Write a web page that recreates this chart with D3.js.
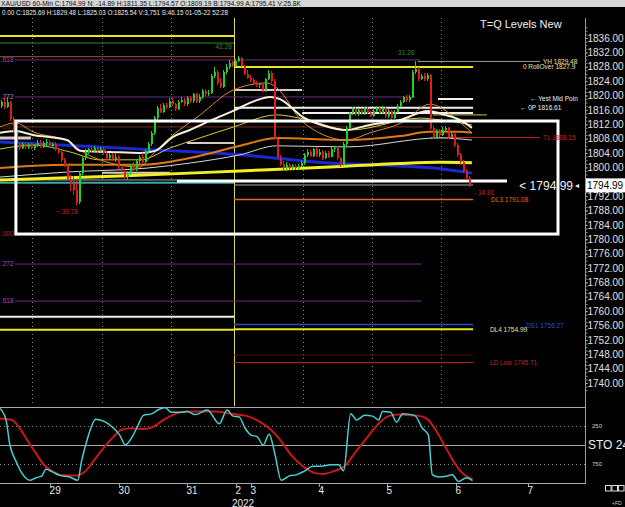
<!DOCTYPE html>
<html>
<head>
<meta charset="utf-8">
<script src="https://cdn.jsdelivr.net/npm/d3@7"></script>
<style>
  body { margin: 0; background: #000; }
  svg { display: block; }
  text { font-family: "Liberation Sans", Arial, sans-serif; }
</style>
</head>
<body>
<div id="chart"></div>
<script>
// hourly candles XAU/USD: [open, high, low, close]
var candles = [
  [1817.0,1818.8,1816.5,1818.2],[1818.2,1819.0,1816.3,1816.8],[1816.8,1819.6,1816.5,1818.3],[1818.0,1818.6,1813.0,1813.5],
  [1813.5,1814.0,1809.5,1810.0],[1810.0,1810.5,1805.8,1806.5],[1806.5,1807.0,1804.8,1805.5],[1805.5,1807.2,1805.0,1806.5],
  [1806.5,1807.0,1805.2,1805.8],[1805.8,1806.8,1805.2,1806.3],[1806.3,1807.0,1805.0,1805.5],[1805.5,1806.5,1804.8,1806.0],
  [1806.0,1807.5,1805.6,1806.8],[1806.8,1807.5,1805.5,1806.0],[1806.0,1807.3,1805.5,1806.7],[1806.7,1807.8,1806.0,1807.2],
  [1807.2,1807.6,1805.4,1806.0],[1806.0,1807.0,1805.5,1806.5],[1806.5,1807.0,1804.5,1805.0],[1805.0,1805.5,1803.8,1804.2],
  [1804.2,1804.6,1801.5,1802.0],[1802.0,1802.5,1800.0,1800.5],[1800.5,1801.0,1796.3,1796.8],[1796.8,1798.0,1793.5,1795.5],
  [1795.5,1797.6,1792.4,1793.8],[1793.8,1796.5,1789.5,1790.5],[1790.5,1799.0,1789.8,1798.5],[1798.5,1803.0,1798.0,1802.5],
  [1802.5,1805.0,1802.0,1804.3],[1804.3,1805.5,1803.8,1805.0],[1805.0,1805.6,1804.0,1804.5],[1804.5,1806.0,1804.2,1805.3],
  [1805.3,1805.8,1804.0,1804.6],[1804.6,1805.8,1804.2,1805.2],[1805.2,1805.6,1803.5,1804.0],[1804.0,1804.5,1802.0,1802.5],
  [1802.5,1804.0,1802.0,1803.5],[1803.5,1804.0,1801.8,1802.2],[1802.2,1803.6,1801.5,1803.0],[1803.0,1803.5,1799.6,1800.0],
  [1800.0,1800.6,1798.6,1799.0],[1799.0,1799.5,1796.8,1797.2],[1797.2,1799.0,1796.4,1798.5],[1798.5,1801.0,1797.8,1800.5],
  [1800.5,1801.5,1799.0,1799.5],[1799.5,1802.3,1799.0,1801.8],[1801.8,1803.5,1801.0,1803.0],[1803.0,1804.0,1801.0,1801.5],
  [1801.5,1805.0,1801.2,1804.5],[1804.5,1807.0,1804.0,1806.5],[1806.5,1810.0,1806.0,1809.5],[1809.5,1814.3,1809.0,1813.8],
  [1813.8,1817.0,1813.0,1816.5],[1816.5,1817.5,1815.0,1815.5],[1815.5,1818.0,1815.0,1817.3],[1817.3,1818.0,1816.2,1816.8],
  [1816.8,1819.2,1816.4,1818.6],[1818.6,1819.2,1817.0,1817.5],[1817.5,1818.0,1815.8,1816.3],[1816.3,1818.8,1816.0,1818.2],
  [1818.2,1819.5,1817.8,1818.8],[1818.8,1819.2,1817.2,1817.6],[1817.6,1820.0,1817.2,1819.4],[1819.4,1820.0,1818.0,1818.5],
  [1818.5,1820.8,1818.0,1820.3],[1820.3,1820.6,1817.8,1818.4],[1818.4,1820.3,1818.0,1819.6],[1819.6,1821.8,1819.0,1821.2],
  [1821.2,1821.8,1820.0,1820.5],[1820.5,1821.5,1820.0,1820.8],[1820.8,1826.0,1820.3,1825.5],[1825.5,1827.8,1825.0,1826.5],
  [1826.5,1827.0,1822.8,1823.5],[1823.5,1825.0,1822.0,1822.5],[1822.5,1827.0,1822.0,1826.5],[1826.5,1828.7,1826.0,1828.0],
  [1828.0,1830.0,1827.5,1829.0],[1829.0,1829.6,1827.8,1828.4],[1828.3,1830.2,1828.0,1829.5],[1829.5,1831.0,1829.2,1830.3],
  [1830.3,1830.8,1827.8,1828.2],[1828.2,1828.6,1825.6,1826.0],[1826.0,1827.0,1824.6,1825.0],[1825.0,1825.8,1823.8,1824.3],
  [1824.3,1825.0,1823.0,1823.5],[1823.5,1824.0,1822.5,1823.0],[1823.0,1823.6,1822.2,1823.3],[1823.3,1823.5,1821.0,1821.5],
  [1821.5,1825.0,1821.0,1824.5],[1824.5,1827.0,1824.2,1826.3],[1826.3,1826.8,1823.5,1824.0],[1824.0,1824.5,1807.5,1808.0],
  [1808.0,1808.5,1802.5,1803.0],[1803.0,1803.5,1800.5,1801.0],[1801.0,1801.8,1799.2,1799.8],[1799.8,1801.5,1799.0,1800.6],
  [1800.6,1801.2,1799.3,1799.8],[1799.8,1801.0,1799.2,1800.4],[1800.4,1800.9,1799.2,1799.7],[1799.7,1801.0,1799.3,1800.5],
  [1800.5,1802.0,1800.0,1801.2],[1801.2,1804.0,1800.8,1803.5],[1803.5,1805.0,1803.0,1804.2],[1804.2,1804.8,1802.8,1803.2],
  [1803.2,1805.5,1802.8,1805.0],[1805.0,1805.6,1803.0,1803.5],[1803.5,1805.0,1803.0,1804.3],[1804.3,1804.8,1802.0,1802.5],
  [1802.5,1804.6,1802.2,1804.0],[1804.0,1804.5,1802.5,1803.0],[1803.0,1805.6,1802.8,1805.0],[1805.0,1806.0,1804.3,1805.5],
  [1805.5,1806.0,1802.0,1802.5],[1802.5,1803.0,1800.2,1800.6],[1800.6,1807.0,1800.3,1806.5],[1806.5,1811.5,1806.0,1811.0],
  [1811.0,1815.5,1810.6,1815.0],[1815.0,1816.8,1814.5,1816.2],[1816.2,1816.8,1814.3,1814.8],[1814.8,1816.6,1814.3,1816.0],
  [1816.0,1816.5,1814.5,1815.0],[1815.0,1816.9,1814.6,1816.3],[1816.3,1816.8,1814.8,1815.2],[1815.2,1815.6,1813.9,1814.4],
  [1814.4,1816.4,1814.0,1815.8],[1815.8,1817.0,1815.3,1816.5],[1816.5,1817.0,1814.8,1815.2],[1815.2,1817.0,1814.8,1816.4],
  [1816.4,1816.8,1813.7,1814.2],[1814.2,1816.2,1813.8,1815.6],[1815.6,1816.0,1813.3,1813.8],[1813.8,1815.9,1813.4,1815.3],
  [1815.3,1817.6,1815.0,1817.0],[1817.0,1818.8,1816.7,1818.2],[1818.2,1820.0,1817.8,1819.5],[1819.5,1820.2,1818.3,1818.7],
  [1818.7,1820.2,1818.2,1819.6],[1819.6,1827.2,1819.2,1826.5],[1826.5,1829.5,1826.0,1827.4],[1827.4,1827.8,1824.0,1824.6],
  [1824.6,1826.0,1824.2,1825.5],[1825.5,1826.2,1824.0,1824.5],[1824.5,1826.4,1824.0,1825.6],[1825.6,1826.0,1810.5,1811.0],
  [1811.0,1811.5,1808.0,1808.5],[1808.5,1810.6,1808.0,1810.0],[1810.0,1810.8,1808.5,1809.0],[1809.0,1811.2,1808.6,1810.5],
  [1810.5,1811.4,1810.0,1811.0],[1811.0,1811.35,1808.0,1808.5],[1808.5,1810.0,1808.2,1809.2],[1809.2,1809.8,1805.8,1806.3],
  [1806.3,1806.8,1803.0,1803.5],[1803.5,1804.0,1800.8,1801.5],[1801.5,1802.0,1798.5,1799.0],[1799.0,1799.5,1796.5,1797.0],
  [1797.0,1797.5,1794.57,1794.99]
];

// moving averages: [bar, price]
var maWhiteFast = [[-0.5,1809.6],[4.5,1810.1],[10.5,1809.0],[21.8,1807.6],[26.2,1804.6],[36.2,1804.3],[46.2,1804.0],[51.2,1804.6],[57.2,1808.5],[62.8,1810.4],[70.2,1813.2],[77.2,1815.7],[84.5,1818.5],[89.5,1819.6],[92.8,1819.0],[100.5,1814.0],[107.8,1811.5],[114.5,1810.4],[122.8,1811.8],[132.8,1813.2],[142.2,1815.7],[147.8,1814.6],[152.8,1813.2],[156.8,1811.0]];
var maOrangeFast = [[-0.5,1811.2],[4.5,1812.4],[10.5,1809.9],[22.8,1807.1],[26.2,1804.8],[32.8,1802.1],[46.2,1800.1],[49.5,1802.9],[55.2,1807.6],[66.2,1814.6],[77.2,1821.5],[88.5,1823.5],[91.8,1822.1],[100.5,1812.6],[115.2,1807.6],[122.8,1809.6],[133.8,1812.6],[142.8,1817.6],[152.8,1812.6],[156.8,1809.6]];
var maYellowFast = [[-0.5,1805.1],[10.5,1806.2],[22.8,1804.3],[32.8,1802.1],[46.2,1802.1],[56.2,1805.4],[66.2,1808.2],[77.2,1811.2],[91.8,1814.6],[99.5,1813.7],[116.2,1810.4],[139.5,1813.7],[146.2,1813.2],[156.8,1811.8]];
var maOrangeSlow = [[-0.5,1799.8],[21.8,1800.7],[46.2,1800.7],[62.8,1802.6],[79.5,1806.0],[91.8,1808.2],[115.2,1807.6],[132.8,1808.7],[142.8,1809.9],[152.8,1809.9],[156.8,1809.6]];
var maWhiteSlow = [[-0.5,1797.3],[21.8,1798.7],[48.5,1799.8],[62.8,1801.2],[79.5,1803.5],[91.8,1806.0],[115.2,1805.7],[146.2,1808.2],[156.8,1807.6]];
var maYellowSlow = [[-0.5,1796.5],[39.5,1797.6],[79.5,1799.0],[109.5,1800.1],[132.8,1801.1],[146.2,1801.4],[156.8,1801.3]];
var maBlue = [[-0.5,1807.1],[32.8,1805.7],[52.8,1804.8],[79.5,1803.5],[109.5,1801.2],[132.8,1800.4],[146.2,1799.6],[156.8,1798.4]];

// stochastic %K and %D: bar positions and values
var stochKBars = [-0.5,1.5,2.8,4.8,6.8,9.5,11.5,13.4,14.8,16.8,19.4,22.7,25.4,26.7,28.7,31.4,34.7,37.4,39.4,41.3,43.3,45.3,47.3,50,52.6,54.6,56.6,59.3,61.9,64.6,68.6,72.6,75.2,77.2,79.2,81.2,83.2,85.2,87.2,89.2,91.2,93.2,95.8,98.5,101.1,103.8,106.4,109.8,112.4,114,116.4,118.4,121.1,123.7,125.7,127,129.7,131.7,133.7,137.7,140.3,142.3,143.6,145.6,148.3,150.3,152.3,155,157];
var stochK = [98,83,50,29,13,3.5,7,9,18,15,10,8,3.5,29,59,84,80,72,63,50,59,74,89,91,97,99,93,93,94,90,96,78,96,88,87,72,63,61,50,64,37,3.5,9,11,16,22,22,24,24,16,91,83,89,88,83,94,93,80,91,89,72,63,11,8,9,11,2,7,3];
var stochDBars = [-0.5,3.5,6.1,8.8,11.5,14.1,16.8,19.4,22.1,25.4,28.1,30.7,34,37.4,40,43.3,47.3,50.6,54,58,61.9,65.9,71.2,76.6,81.9,85.9,89.8,93.2,96.5,100.5,104.5,107.1,111.1,114.4,117.7,121.7,125.7,129,132.4,136.3,139.7,142.3,145,147.6,150.3,152.9,157];
var stochD = [85,83,72,55,39,24,16,11,10,10,16,29,46,61,70,72,71,74,83,91,94,94,94,91,88,81,70,55,37,22,13,12,16,22,39,59,78,88,90,89,88,83,68,50,31,16,5];

// level lines: [style, price, from bar, to bar]
var levels = [
  ["yellow", 1836.55, -1, 77.5], ["green", 1834.6, -1, 77.5], ["brown", 1830.8, -1, 77.5],
  ["fib", 1829.9, 4.5, 139.5], ["fib", 1819.6, 4.5, 138], ["fib0", 1811.25, 4.5, 140.5],
  ["grey", 1829.48, 138.8, 179.5], ["yellow", 1827.9, 77.5, 157.2], ["pink", 1821.5, 77.5, 100.2],
  ["white", 1819.0, 145.5, 157.2], ["white", 1816.61, 77.5, 157.2], ["white", 1815.1, 100.2, 157.2],
  ["yellowThin", 1814.6, 143.8, 161.8], ["red", 1808.3, 142.8, 179.5], ["pinkThick", 1808.2, -1, 9.8],
  ["pink", 1806.8, 61.8, 77.5], ["pink", 1798.5, 33.5, 56.2], ["greyThin", 1796.5, -1, 58.5],
  ["teal", 1795.75, -1, 77.5], ["whiteThick", 1796.2, 58.5, 168.5], ["greyThin", 1795.1, 77.5, 157.2],
  ["orange", 1791.08, 77.5, 157.2], ["fibRed", 1781.47, 4.5, 140.5], ["fib", 1773.1, 4.5, 140],
  ["fib", 1762.8, 4.5, 140], ["white", 1758.45, -1, 77.5], ["yellow", 1754.85, -1, 77.5],
  ["blue", 1756.27, 77.5, 157.2], ["yellow", 1754.99, 77.5, 157.2], ["darkRed", 1747.8, 77.5, 157.2],
  ["red", 1745.71, 77.5, 157.2]
];

// text labels: [text, price, bar, colour key, anchor]
var levelLabels = [
  [".618", 1829.9, -0.2, "fibText", "start"], [".272", 1819.6, -0.2, "fibPink", "start"],
  [".000", 1811.25, -0.2, "fib0", "start"], [".000", 1781.47, -0.2, "red", "start"],
  [".272", 1773.1, -0.2, "fibText", "start"], [".618", 1762.8, -0.2, "fibText", "start"],
  ["42.28", 1833.7, 76.8, "green", "end"], ["31.28", 1831.8, 132.2, "green", "start"],
  ["~ 30.78", 1787.6, 18.2, "red", "start"],
  ["YH 1829.48", 1829.48, 180.5, "beige", "start"], ["0 RollOver 1827.9", 1827.9, 173.8, "beige", "start"],
  ["\u2190 Yest Mid Poin", 1819.0, 176.2, "white", "start"], ["\u2190 0P 1816.61", 1816.61, 172.8, "white", "start"],
  ["TL 1808.15", 1808.3, 180.5, "red", "start"], ["- 34.81", 1792.9, 157.5, "red", "start"],
  ["DL3 1791.08", 1791.08, 163.2, "orange", "start"], ["DS1 1756.27", 1756.0, 174.8, "blue", "start"],
  ["DL4 1754.99", 1754.8, 162.8, "beige", "start"], ["LD Low 1745.71", 1745.6, 162.8, "red", "start"]
];

// session starts (dotted grid), the new-week session, day ticks
var sessionBars = [10.2, 33.5, 56.5, 100.5, 123.5, 146.5];
var weekStartBar = 77.5;
var dayTickBars = [16.2, 39.2, 61.8, 78.2, 83.2, 105.8, 128.5, 151.5, 175.5];
var dayTickLabels = ["29", "30", "31", "2", "3", "4", "5", "6", "7"];
var priceTicks = d3.range(1740, 1837, 4);
var lastPrice = 1794.99;
var boxTop = 1812.9, boxBottom = 1781.45, boxFrom = 4.8, boxTo = 185.5;

var headerLine = "XAU/USD 60-Min  C:1794.99  N: -14.89  H:1811.35  L:1794.57  O:1809.19  B:1794.99  A:1795.41  V:25.8K";
var infoLine = "0.00  C:1825.69  H:1829.48  L:1825.03  O:1825.54  V:3,751  S:46.15  01-05-22  52:28";

function init() {
    var w = 625, h = 507;
    var axisX = 585;
    var panelTop = 18, panelBottom = 406;

    var svg = d3.select("#chart").append("svg")
        .attr("width", w).attr("height", h)
        .style("background", "#000");

    var x = d3.scaleLinear().domain([0, 194.5]).range([1.5, axisX]);
    var y = d3.scaleLinear().domain([1740, 1836]).range([383, 38]);
    var ys = d3.scaleLinear().domain([0, 100]).range([483, 407]);

    var colors = {
        yellow: "#e8e820", green: "#2c8c2c", brown: "#a0581c", fib: "#6a2c88", fib0: "#7a2a1c",
        grey: "#9a9a9a", pink: "#d8c8c8", white: "#f0f0f0", yellowThin: "#c8c840", red: "#c82020",
        pinkThick: "#d8c8c8", greyThin: "#a8a8a8", teal: "#3aa8a8", whiteThick: "#ffffff",
        orange: "#e06a18", fibRed: "#a01818", blue: "#2a50c8", darkRed: "#581010",
        fibText: "#a848c8", fibPink: "#c878c8", beige: "#e8e0a0"
    };
    var widths = { yellow: 2, white: 2, whiteThick: 3, pinkThick: 3, pink: 2, teal: 2, orange: 1.5, blue: 1.5 };

    var defs = svg.append("defs");
    defs.append("clipPath").attr("id", "pclip").append("rect")
        .attr("x", 0).attr("y", panelTop).attr("width", axisX).attr("height", panelBottom - panelTop);
    defs.append("clipPath").attr("id", "sclip").append("rect")
        .attr("x", 0).attr("y", 407).attr("width", axisX).attr("height", 77);

    // header rows
    svg.append("rect").attr("x", 0).attr("y", 0).attr("width", w).attr("height", 7).attr("fill", "#d6d6d6");
    svg.append("text").attr("x", 1).attr("y", 5.5).attr("font-size", 7).attr("fill", "#111")
        .attr("textLength", 300).attr("lengthAdjust", "spacingAndGlyphs").text(headerLine);
    svg.append("text").attr("x", 2).attr("y", 14.5).attr("font-size", 6.5).attr("fill", "#eee")
        .attr("textLength", 226).attr("lengthAdjust", "spacingAndGlyphs").text(infoLine);

    var plot = svg.append("g").attr("clip-path", "url(#pclip)");

    // dotted session grid
    plot.selectAll(".grid").data(sessionBars).enter().append("line")
        .attr("x1", function(d) { return Math.round(x(d)) + 0.5; })
        .attr("x2", function(d) { return Math.round(x(d)) + 0.5; })
        .attr("y1", panelTop).attr("y2", panelBottom)
        .attr("stroke", "#8a8a8a").attr("stroke-dasharray", "1,3");

    plot.append("line")
        .attr("x1", Math.round(x(weekStartBar)) + 0.5).attr("x2", Math.round(x(weekStartBar)) + 0.5)
        .attr("y1", panelTop).attr("y2", panelBottom)
        .attr("stroke", "#d8d860").attr("stroke-width", 1);

    // level lines
    plot.selectAll(".level").data(levels).enter().append("line")
        .attr("x1", function(d) { return x(d[2]); })
        .attr("x2", function(d) { return x(d[3]); })
        .attr("y1", function(d) { return y(d[1]); })
        .attr("y2", function(d) { return y(d[1]); })
        .attr("stroke", function(d) { return colors[d[0]]; })
        .attr("stroke-width", function(d) { return widths[d[0]] || 1; });

    // moving averages
    var line = d3.line()
        .x(function(d) { return x(d[0]); })
        .y(function(d) { return y(d[1]); })
        .curve(d3.curveMonotoneX);
    var mas = [
        [maBlue, "#1a28d0", 3],
        [maYellowSlow, "#f2f020", 3],
        [maWhiteSlow, "#d8d8d8", 1],
        [maOrangeSlow, "#e07818", 2],
        [maYellowFast, "#cfcf40", 1],
        [maOrangeFast, "#e08a2a", 1],
        [maWhiteFast, "#f4f0dc", 2]
    ];
    plot.selectAll(".ma").data(mas).enter().append("path")
        .attr("d", function(d) { return line(d[0]); })
        .attr("fill", "none")
        .attr("stroke", function(d) { return d[1]; })
        .attr("stroke-width", function(d) { return d[2]; });

    // candles
    var cg = plot.append("g").attr("shape-rendering", "crispEdges");
    var bars = cg.selectAll(".candle").data(candles).enter().append("g");
    bars.append("rect")
        .attr("x", function(d, i) { return x(i) - 0.5; })
        .attr("width", 1)
        .attr("y", function(d) { return y(d[1]); })
        .attr("height", function(d) { return Math.max(1, y(d[2]) - y(d[1])); })
        .attr("fill", function(d) { return d[3] >= d[0] ? "#22d022" : "#e01c1c"; });
    bars.append("rect")
        .attr("x", function(d, i) { return x(i) - 1; })
        .attr("width", 2)
        .attr("y", function(d) { return y(Math.max(d[0], d[3])); })
        .attr("height", function(d) { return Math.max(1, Math.abs(y(d[0]) - y(d[3]))); })
        .attr("fill", function(d) { return d[3] >= d[0] ? "#22d022" : "#e01c1c"; });

    // white range box
    plot.append("rect")
        .attr("x", x(boxFrom)).attr("y", y(boxTop))
        .attr("width", x(boxTo) - x(boxFrom)).attr("height", y(boxBottom) - y(boxTop))
        .attr("fill", "none").attr("stroke", "#fff").attr("stroke-width", 3);

    // level labels
    plot.selectAll(".lab").data(levelLabels).enter().append("text")
        .attr("x", function(d) { return x(d[2]); })
        .attr("y", function(d) { return y(d[1]); })
        .attr("dy", "0.35em")
        .attr("font-size", 6.5)
        .attr("text-anchor", function(d) { return d[4]; })
        .attr("fill", function(d) { return colors[d[3]]; })
        .text(function(d) { return d[0]; });

    svg.append("text").attr("x", 480).attr("y", 28).attr("font-size", 11).attr("fill", "#f0f0f0")
        .text("T=Q Levels New");

    // last price marker
    svg.append("text").attr("x", axisX - 12).attr("y", y(lastPrice)).attr("dy", "0.35em")
        .attr("text-anchor", "end").attr("font-size", 12).attr("fill", "#f0f0f0")
        .text("< " + lastPrice.toFixed(2));
    svg.append("text").attr("x", axisX - 10).attr("y", y(lastPrice)).attr("dy", "0.35em")
        .attr("font-size", 8).attr("fill", "#f0f0f0").text("\u25C2");

    // price axis (labels hidden behind the last-price box are left out)
    svg.append("line").attr("x1", axisX + 0.5).attr("x2", axisX + 0.5)
        .attr("y1", panelTop).attr("y2", 484).attr("stroke", "#9a9a9a");
    var minor = d3.axisRight(y).tickValues(d3.range(1738, 1840, 1)).tickSize(2).tickFormat("");
    svg.append("g").attr("transform", "translate(" + (axisX + 0.5) + ",0)").call(minor)
        .call(function(g) { g.select(".domain").remove(); g.selectAll("line").attr("stroke", "#888"); });
    var shownTicks = priceTicks.filter(function(v) { return Math.abs(y(v) - y(lastPrice)) > 9; });
    var yAxis = d3.axisRight(y).tickValues(shownTicks).tickSize(2).tickPadding(0)
        .tickFormat(d3.format(".2f"));
    svg.append("g").attr("transform", "translate(" + (axisX + 0.5) + ",0)").call(yAxis)
        .call(function(g) {
            g.select(".domain").remove();
            g.selectAll("line").attr("stroke", "#aaa");
            g.selectAll("text").attr("fill", "#e0e0e0").attr("font-size", 10)
                .attr("font-family", "Liberation Sans, Arial, sans-serif");
        });
    svg.append("rect").attr("x", axisX + 1).attr("y", y(lastPrice) - 7).attr("width", w - axisX).attr("height", 14)
        .attr("fill", "#fff");
    svg.append("text").attr("x", axisX + 2).attr("y", y(lastPrice)).attr("dy", "0.35em")
        .attr("font-size", 10).attr("fill", "#000").text(lastPrice.toFixed(2));

    // stochastic panel
    var sg = svg.append("g");
    [[100, "#a8a8a8", null], [75, "#8a8a8a", "1,3"], [50, "#a8a8a8", null], [25, "#8a8a8a", "1,3"], [0, "#a8a8a8", null]]
        .forEach(function(r) {
            sg.append("line").attr("x1", 0).attr("x2", axisX)
                .attr("y1", Math.round(ys(r[0])) + 0.5).attr("y2", Math.round(ys(r[0])) + 0.5)
                .attr("stroke", r[1]).attr("stroke-dasharray", r[2]);
        });
    var sline = d3.line().curve(d3.curveMonotoneX);
    var kPts = stochKBars.map(function(b, i) { return [x(b), ys(stochK[i])]; });
    var dPts = stochDBars.map(function(b, i) { return [x(b), ys(stochD[i])]; });
    var sc = sg.append("g").attr("clip-path", "url(#sclip)");
    sc.append("path").attr("d", sline(dPts)).attr("fill", "none").attr("stroke", "#c81818").attr("stroke-width", 2);
    sc.append("path").attr("d", sline(kPts)).attr("fill", "none").attr("stroke", "#48d0d0").attr("stroke-width", 1.5);
    sg.append("text").attr("x", 592).attr("y", ys(75)).attr("dy", "0.35em").attr("font-size", 6).attr("fill", "#ccc").text("250");
    sg.append("text").attr("x", 592).attr("y", ys(25)).attr("dy", "0.35em").attr("font-size", 6).attr("fill", "#ccc").text("750");
    sg.append("text").attr("x", 588).attr("y", ys(50)).attr("dy", "0.35em").attr("font-size", 12).attr("fill", "#f0f0f0").text("STO  24.");

    // time axis
    var xAxis = d3.axisBottom(x).tickValues(dayTickBars).tickSize(3).tickPadding(0)
        .tickFormat(function(d, i) { return dayTickLabels[i]; });
    svg.append("g").attr("transform", "translate(0,484)").call(xAxis)
        .call(function(g) {
            g.select(".domain").remove();
            g.selectAll("line").attr("stroke", "#aaa");
            g.selectAll("text").attr("fill", "#e8e8e8").attr("font-size", 10)
                .attr("text-anchor", "start").attr("dx", "-0.1em")
                .attr("font-family", "Liberation Sans, Arial, sans-serif");
        });
    svg.append("text").attr("x", x(80.5)).attr("y", 506.5).attr("text-anchor", "middle")
        .attr("font-size", 10).attr("fill", "#e8e8e8").text("2022");

    // corner icons
    [0, 1, 2].forEach(function(i) {
        svg.append("rect").attr("x", 605.5 + i * 6.5).attr("y", 485.5).attr("width", 5.5).attr("height", 5.5)
            .attr("fill", "none").attr("stroke", "#ddd");
    });
    svg.append("text").attr("x", 612).attr("y", 505).attr("font-size", 5).attr("fill", "#ccc").text("+FD");
}

window.onload = init;
</script>
</body>
</html>
